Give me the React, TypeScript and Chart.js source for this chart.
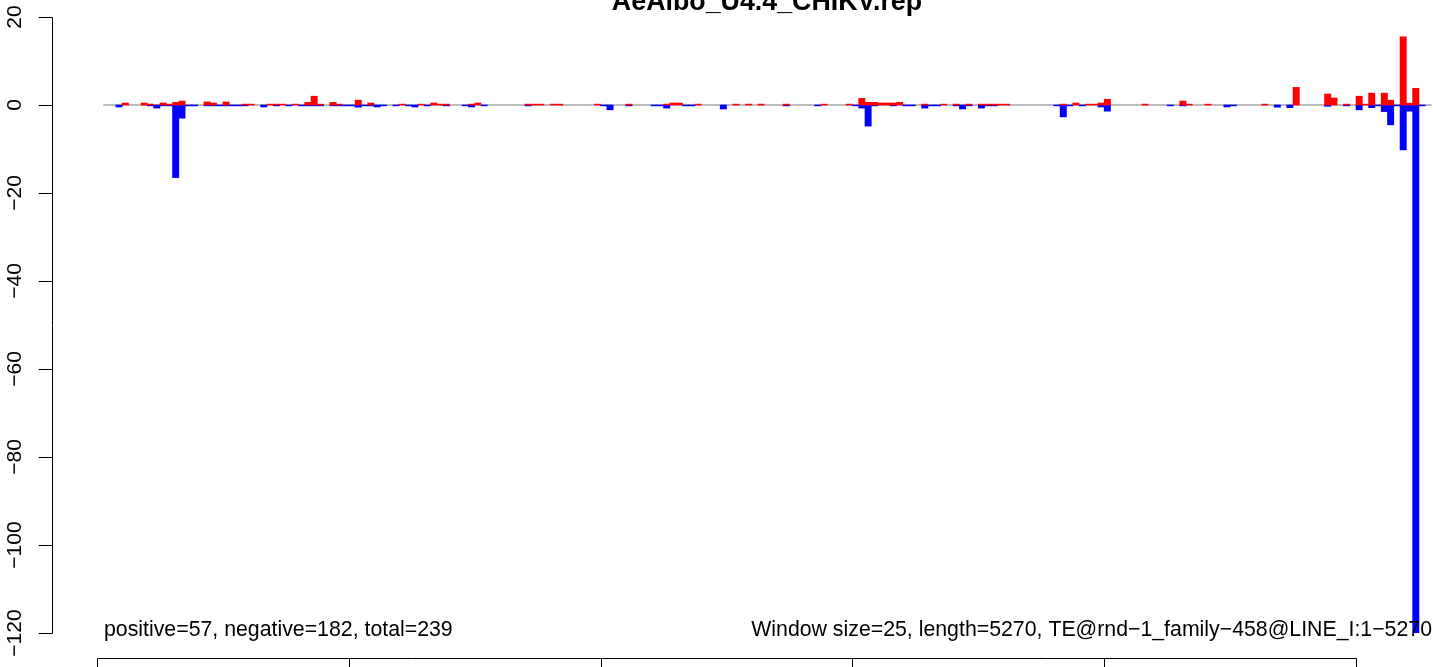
import { useEffect, useRef } from "react";
import { Chart, registerables } from "chart.js";

Chart.register(...registerables);

const windowSize = 25;

// per-window positive (red) counts, one value per 25 bp window
const positive = [
  0, 0, 0, 0, 0.45, 0, 0, 0.45, 0.2, 0,
  0.45, 0.2, 0.6, 0.9, 0, 0, 0, 0.7, 0.45, 0,
  0.7, 0, 0, 0.2, 0.2, 0, 0, 0.2, 0.2, 0.2,
  0, 0.2, 0, 0.6, 2.0, 0.2, 0, 0.6, 0.2, 0,
  0, 1.1, 0, 0.45, 0, 0, 0, 0, 0.2, 0,
  0, 0.2, 0, 0.45, 0.2, 0.2, 0, 0, 0, 0.2,
  0.45, 0, 0, 0, 0, 0, 0, 0, 0.2, 0.2,
  0.2, 0, 0.2, 0.2, 0, 0, 0, 0, 0, 0.2,
  0, 0, 0, 0, 0.2, 0, 0, 0, 0, 0,
  0.2, 0.45, 0.45, 0, 0, 0.2, 0, 0, 0, 0,
  0, 0.2, 0, 0.2, 0, 0.2, 0, 0, 0, 0.2,
  0, 0, 0, 0, 0, 0.2, 0, 0, 0, 0.2,
  0, 1.5, 0.6, 0.6, 0.45, 0.45, 0.45, 0.6, 0, 0,
  0, 0.2, 0, 0, 0.2, 0, 0.2, 0, 0.2, 0,
  0.2, 0.2, 0.2, 0.2, 0.2, 0, 0, 0, 0, 0,
  0, 0, 0, 0.2, 0, 0.45, 0, 0.2, 0.2, 0.45,
  1.3, 0, 0, 0, 0, 0, 0.2, 0, 0, 0,
  0, 0, 0.9, 0.2, 0, 0, 0.2, 0, 0, 0,
  0, 0, 0, 0, 0, 0.2, 0, 0, 0, 0,
  4.0, 0, 0, 0, 0, 2.5, 1.6, 0, 0.2, 0,
  2.0, 0.2, 2.7, 0, 2.7, 1.1, 0, 15.5, 0.4, 3.8,
  0,
];

// per-window negative (blue) counts
const negative = [
  0, 0, 0, -0.45, 0, 0, 0, 0, -0.2, -0.7,
  -0.2, -0.2, -16.5, -3.0, -0.2, -0.2, 0, -0.2, -0.2, -0.2,
  -0.2, -0.2, -0.2, -0.2, 0, 0, -0.45, 0, -0.2, 0,
  -0.2, 0, -0.2, -0.2, -0.2, -0.2, 0, -0.2, -0.2, -0.2,
  -0.2, -0.5, -0.2, -0.2, -0.45, -0.2, 0, -0.2, 0, -0.2,
  -0.45, 0, -0.2, 0, 0, -0.2, 0, 0, -0.2, -0.45,
  0, -0.2, 0, 0, 0, 0, 0, 0, -0.2, 0,
  0, 0, 0, 0, 0, 0, 0, 0, 0, 0,
  -0.2, -1.1, 0, 0, -0.2, 0, 0, 0, -0.2, -0.2,
  -0.7, 0, 0, -0.2, -0.2, 0, 0, 0, 0, -0.9,
  0, 0, 0, 0, 0, 0, 0, 0, 0, -0.2,
  0, 0, 0, 0, -0.2, 0, 0, 0, 0, 0,
  -0.2, -0.7, -4.8, -0.2, 0, 0, -0.2, 0, -0.2, -0.2,
  0, -0.7, -0.2, -0.2, 0, 0, -0.2, -0.9, -0.2, 0,
  -0.7, -0.2, -0.2, 0, 0, 0, 0, 0, 0, 0,
  0, 0, -0.2, -2.7, -0.2, 0, -0.2, 0, 0, -0.45,
  -1.4, 0, 0, 0, 0, 0, 0, 0, 0, 0,
  -0.2, 0, -0.2, 0, 0, 0, 0, 0, 0, -0.45,
  -0.2, 0, 0, 0, 0, 0, 0, -0.5, 0, -0.6,
  0, 0, 0, 0, 0, -0.3, 0, 0, -0.2, 0,
  -1.1, 0, -0.6, -0.2, -1.5, -4.5, -0.2, -10.2, -1.4, -120,
  -0.2,
];

const yTicks = [20, 0, -20, -40, -60, -80, -100, -120];
const yTickLabels = ["20", "0", "\u221220", "\u221240", "\u221260", "\u221280", "\u2212100", "\u2212120"];
const xTicks = [0, 1000, 2000, 3000, 4000, 5000];

const titleText = "AeAlbo_U4.4_CHIKV.rep";
const leftNote = "positive=57, negative=182, total=239";
const rightNote = "Window size=25, length=5270, TE@rnd\u22121_family\u2212458@LINE_I:1\u22125270";

const FONT = "'Liberation Sans', Arial, Helvetica, sans-serif";

const rAxesPlugin = {
  id: "rAxes",
  afterDraw(chart: any) {
    const { ctx, chartArea } = chart;
    const xs = chart.scales.x;
    const ys = chart.scales.y;
    const yMin = yTicks[yTicks.length - 1];
    const yMax = yTicks[0];
    ctx.save();
    ctx.strokeStyle = "#000";
    ctx.fillStyle = "#000";
    ctx.lineWidth = 1;

    // left axis
    const ax = Math.round(chartArea.left) + 0.5;
    ctx.beginPath();
    ctx.moveTo(ax, Math.round(ys.getPixelForValue(yMax)) + 0.5);
    ctx.lineTo(ax, Math.round(ys.getPixelForValue(yMin)) + 0.5);
    yTicks.forEach((t) => {
      const py = Math.round(ys.getPixelForValue(t)) + 0.5;
      ctx.moveTo(ax, py);
      ctx.lineTo(ax - 14, py);
    });
    ctx.stroke();

    ctx.font = `21px ${FONT}`;
    ctx.textAlign = "center";
    ctx.textBaseline = "alphabetic";
    yTicks.forEach((t, i) => {
      const py = ys.getPixelForValue(t);
      ctx.save();
      ctx.translate(ax - 32, py);
      ctx.rotate(-Math.PI / 2);
      ctx.fillText(yTickLabels[i], 0, 0);
      ctx.restore();
    });

    // bottom axis, at the lower edge of the plotting region (R-style 4% extension)
    const by = Math.round(ys.getPixelForValue(yMin - 0.04 * (yMax - yMin))) + 0.5;
    ctx.beginPath();
    ctx.moveTo(Math.round(xs.getPixelForValue(xTicks[0])) + 0.5, by);
    ctx.lineTo(Math.round(xs.getPixelForValue(xTicks[xTicks.length - 1])) + 0.5, by);
    xTicks.forEach((t) => {
      const px = Math.round(xs.getPixelForValue(t)) + 0.5;
      ctx.moveTo(px, by);
      ctx.lineTo(px, by + 14);
    });
    ctx.stroke();

    // title
    ctx.font = `bold 26.8px ${FONT}`;
    ctx.textAlign = "center";
    ctx.fillText(titleText, 767, 10);

    // notes
    ctx.font = `21.3px ${FONT}`;
    ctx.textAlign = "left";
    ctx.fillText(leftNote, 104, 636);
    ctx.textAlign = "right";
    ctx.fillText(rightNote, 1432, 636);
    ctx.restore();
  },
};

export default function App() {
  const ref = useRef<HTMLCanvasElement>(null);

  useEffect(() => {
    const canvas = ref.current;
    if (!canvas) return;
    const toPoints = (arr: number[]) =>
      arr.map((v, k) => ({ x: k * windowSize + windowSize / 2, y: v === 0 ? null : v }));

    const chart = new Chart(canvas, {
      type: "bar",
      data: {
        datasets: [
          {
            type: "bar",
            label: "positive",
            data: toPoints(positive) as any,
            backgroundColor: "#FF0000",
            borderWidth: 0,
            grouped: false,
            barPercentage: 1,
            categoryPercentage: 1,
            order: 1,
          } as any,
          {
            type: "bar",
            label: "negative",
            data: toPoints(negative) as any,
            backgroundColor: "#0000FF",
            borderWidth: 0,
            grouped: false,
            barPercentage: 1,
            categoryPercentage: 1,
            order: 2,
          } as any,
          {
            type: "line",
            label: "zero",
            data: [
              { x: windowSize, y: 0 },
              { x: (positive.length + 1) * windowSize, y: 0 },
            ],
            borderColor: "#A6A6A6",
            borderWidth: 1.5,
            pointRadius: 0,
            order: 3,
          } as any,
        ],
      },
      options: {
        animation: false,
        responsive: false,
        devicePixelRatio: 1,
        layout: { padding: { left: 52, right: 0, top: 17, bottom: 34 } },
        plugins: {
          legend: { display: false },
          tooltip: { enabled: false },
          title: { display: false },
        },
        scales: {
          x: { type: "linear", display: false, offset: false, min: -178.7, max: 5305.8 },
          y: { type: "linear", display: false, min: -120, max: 20 },
        },
      },
      plugins: [rAxesPlugin],
    });
    return () => chart.destroy();
  }, []);

  return (
    <div style={{ position: "absolute", left: 0, top: 0, width: 1433, height: 667, background: "#fff" }}>
      <canvas ref={ref} width={1433} height={667} style={{ display: "block", width: 1433, height: 667 }} />
    </div>
  );
}
